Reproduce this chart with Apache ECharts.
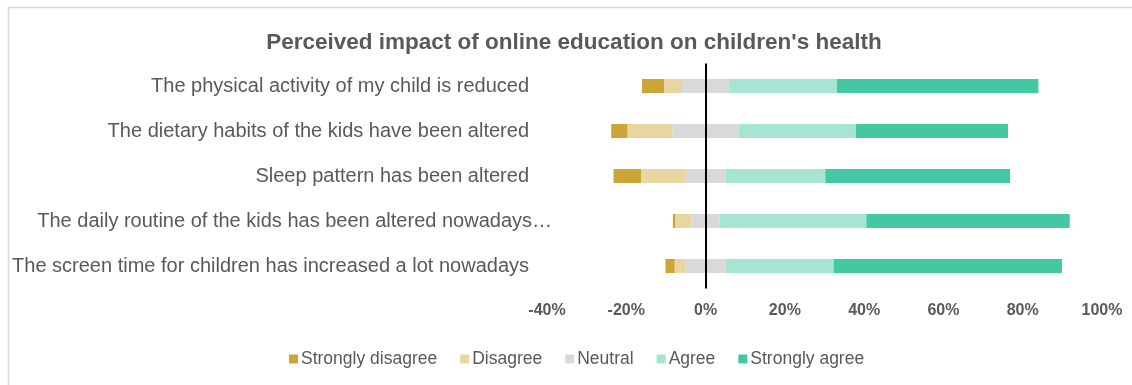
<!DOCTYPE html>
<html>
<head>
<meta charset="utf-8">
<script src="https://cdn.jsdelivr.net/npm/echarts@6/dist/echarts.min.js"></script>
<style>
html,body{margin:0;padding:0;background:#fff;}
#chart{width:1132px;height:385px;}
</style>
</head>
<body>
<div id="chart"></div>
<script>
const categories = [
  "The physical activity of my child is reduced",
  "The dietary habits of the kids have been altered",
  "Sleep pattern has been altered",
  "The daily routine of the kids has been altered nowadays…",
  "The screen time for children has increased a lot nowadays"
];
const stronglyDisagree = [5.6, 4.1, 6.9, 0.6, 2.3];
const disagree = [4.5, 11.4, 11.3, 4.1, 2.8];
const neutral = [11.9, 16.6, 10.0, 7.1, 10.0];
const agree = [27.2, 29.6, 25.2, 37.0, 27.3];
const stronglyAgree = [50.8, 38.4, 46.6, 51.3, 57.6];
const seriesNames = ["Strongly disagree", "Disagree", "Neutral", "Agree", "Strongly agree"];
const colors = {
  "Strongly disagree": "#CBA535",
  "Disagree": "#E8D6A1",
  "Neutral": "#D9D9D9",
  "Agree": "#A6E5D3",
  "Strongly agree": "#43C8A3"
};
const xTicks = { min: -40, max: 100, interval: 20 };

const FONT = "'Liberation Sans', Arial, sans-serif";
const TXT = "#595959";

function bar(name, data) {
  return {
    name: name, type: 'bar', stack: 'total', barWidth: 14,
    itemStyle: { color: colors[name] },
    data: data, emphasis: { disabled: true }
  };
}

const negNeutral = neutral.map(v => -v / 2);
const posNeutral = neutral.map(v => v / 2);

const series = [
  bar("Neutral", negNeutral),
  bar("Disagree", disagree.map(v => -v)),
  bar("Strongly disagree", stronglyDisagree.map(v => -v)),
  bar("Neutral", posNeutral),
  bar("Agree", agree),
  bar("Strongly agree", stronglyAgree)
];
series[0].markLine = {
  silent: true, symbol: 'none', label: { show: false },
  lineStyle: { color: '#000', width: 2, type: 'solid' },
  data: [{ xAxis: 0 }]
};

const chart = echarts.init(document.getElementById('chart'), null, { renderer: 'canvas' });
chart.setOption({
  animation: false,
  backgroundColor: '#fff',
  color: seriesNames.map(n => colors[n]),
  title: {
    text: "Perceived impact of online education on children's health",
    left: 569, top: 26, textAlign: 'center',
    textStyle: { fontFamily: FONT, fontSize: 22.5, fontWeight: 'bold', color: TXT }
  },
  graphic: [{
    type: 'rect', left: 6, top: 5, silent: true,
    shape: { width: 1300, height: 600 },
    style: { fill: 'none', stroke: '#D9D9D9', lineWidth: 1.5 }
  }],
  legend: {
    data: seriesNames,
    left: 284, top: 345,
    itemWidth: 9, itemHeight: 9, itemGap: 23,
    icon: 'rect',
    textStyle: { fontFamily: FONT, fontSize: 17.5, color: TXT, padding: [0, 0, 0, -2] }
  },
  grid: { left: 547, right: 30, top: 63.5, height: 225, containLabel: false },
  xAxis: {
    type: 'value', min: xTicks.min, max: xTicks.max, interval: xTicks.interval,
    axisLine: { show: false }, axisTick: { show: false }, splitLine: { show: false },
    axisLabel: {
      formatter: v => v + '%', margin: 14,
      fontFamily: FONT, fontSize: 16, fontWeight: 'bold', color: TXT
    }
  },
  yAxis: {
    type: 'category', data: categories, inverse: true,
    axisLine: { show: false }, axisTick: { show: false }, splitLine: { show: false },
    axisLabel: {
      margin: -5,
      formatter: v => v.endsWith('…') ? '{b|' + v + '}' : '{a|' + v + '}',
      rich: {
        a: { fontFamily: FONT, fontSize: 20, color: TXT, padding: [0, 23, 0, 0] },
        b: { fontFamily: FONT, fontSize: 20, color: TXT }
      }
    }
  },
  series: series
});
</script>
</body>
</html>
